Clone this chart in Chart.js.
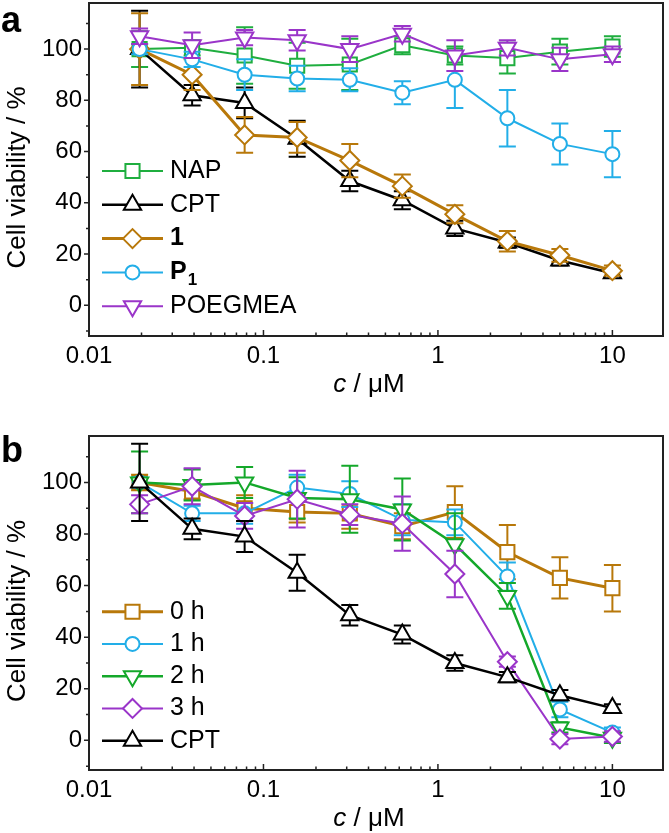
<!DOCTYPE html>
<html><head><meta charset="utf-8">
<script src="https://cdn.jsdelivr.net/npm/chart.js@4.4.1/dist/chart.umd.min.js"></script>
<style>
html,body{margin:0;padding:0;background:#fff;}
#wrap{position:relative;width:669px;height:833px;overflow:hidden;}
canvas{position:absolute;left:0;}
</style></head><body>
<div id="wrap">
<canvas id="ca" width="669" height="415" style="top:0;width:669px;height:415px"></canvas>
<canvas id="cb" width="669" height="418" style="top:415px;width:669px;height:418px"></canvas>
</div>
<script>
// ---------- data ----------
const concentrations = [0.0195, 0.039, 0.078, 0.156, 0.3125, 0.625, 1.25, 2.5, 5, 10];

// panel a
const napValues  = [100, 100.5, 97.5, 93.5, 94, 101.5, 97.5, 96.5, 99, 101];
const napErrors  = [7, 3, 11, 9, 10, 3.5, 3.5, 6, 5, 4];
const cptValues  = [100, 82, 79, 65, 48.5, 41, 30, 24.5, 17.5, 12.5];
const cptErrors  = [15, 4, 6, 7, 4, 3.5, 3, 2, 2, 1.5];
const oneValues  = [100, 90, 66.5, 65.5, 56.5, 46.5, 35.5, 25, 19.5, 13.5];
const oneErrors  = [14, 6, 7, 6, 6.5, 4.5, 3.5, 4, 2.5, 2];
const p1Values   = [100, 96, 90, 88.5, 88, 83, 88, 73, 63, 59];
const p1Errors   = [2, 3, 6, 5, 4.5, 4.5, 11, 11, 8, 9];
const poeValues  = [105, 101.5, 104.5, 103.5, 100, 106, 97.5, 100.5, 96, 98];
const poeErrors  = [3, 5, 3, 4, 5, 3, 6, 3, 4.5, 3];

// panel b
const h0Values = [100, 96.5, 90, 88.5, 88, 83, 88.5, 73, 63, 59];
const h0Errors = [3, 3, 5, 4, 6, 5, 10, 10.5, 8, 9];
const h1Values = [100, 88, 88, 98, 95.5, 85.5, 84.5, 63.5, 12, 3];
const h1Errors = [2, 3, 4, 5, 5, 6, 5, 5.5, 3, 2];
const h2Values = [100, 99, 100, 94, 93.5, 89.5, 76, 56, 5, 1];
const h2Errors = [12, 6, 6, 8, 13, 12, 12, 5, 2, 2];
const h3Values = [91.5, 98.5, 87, 93.5, 87.5, 84, 64.5, 30.5, 0.5, 1.5];
const h3Errors = [3.5, 7, 5, 11, 4, 10.5, 9, 2, 2, 2];
const cptBValues = [100, 82, 79, 65, 48.5, 41, 30, 24.5, 17.5, 12.5];
const cptBErrors = [15, 4, 6, 7, 4, 3.5, 3, 2, 2, 1.5];

// ticks
const xMajorTicks = [0.01, 0.1, 1, 10];
const xTickLabels = ['0.01', '0.1', '1', '10'];
const xMinorTicks = [0.02,0.03,0.04,0.05,0.06,0.07,0.08,0.09,0.2,0.3,0.4,0.5,0.6,0.7,0.8,0.9,2,3,4,5,6,7,8,9];
const yMajorTicks = [0, 20, 40, 60, 80, 100];
const yTickLabels = ['0', '20', '40', '60', '80', '100'];
const yMinorTicks = [-10, 10, 30, 50, 70, 90, 110];

// ---------- style ----------
const FONT = '"Liberation Sans", Arial, Helvetica, sans-serif';
const C_GREEN = '#1fae3f', C_GREEN2 = '#14a82a', C_BLACK = '#000000', C_BROWN = '#b8780a',
      C_CYAN = '#22aee8', C_PURPLE = '#9a35c9';

function ds(label, vals, errs, color, style, opts) {
  opts = opts || {};
  return {
    label: label,
    data: concentrations.map((x, i) => ({x: x, y: vals[i]})),
    err: errs,
    borderColor: color,
    backgroundColor: '#ffffff',
    borderWidth: opts.lw || 2,
    pointStyle: style.s,
    pointRadius: style.r,
    pointRotation: style.rot || 0,
    pointBorderWidth: 2,
    pointBorderColor: color,
    pointBackgroundColor: '#ffffff',
    legendBold: !!opts.bold,
    tension: 0
  };
}
const SQ = {s: 'rect', r: 10}, TRI = {s: 'triangle', r: 10}, DIA = {s: 'rectRot', r: 9.5},
      CIR = {s: 'circle', r: 7}, TRD = {s: 'triangle', r: 10, rot: 180};

const panelPlugin = {
  id: 'panel',
  beforeDatasetDraw(chart, args) {
    const d = chart.data.datasets[args.index];
    const ctx = chart.ctx, xs = chart.scales.x, ys = chart.scales.y, ca = chart.chartArea;
    ctx.save();
    ctx.beginPath(); ctx.rect(ca.left, ca.top, ca.right - ca.left, ca.bottom - ca.top); ctx.clip();
    ctx.strokeStyle = d.borderColor; ctx.lineWidth = 2;
    d.data.forEach((p, i) => {
      const e = d.err[i];
      const x = xs.getPixelForValue(p.x);
      const yt = ys.getPixelForValue(p.y + e), yb = ys.getPixelForValue(p.y - e);
      ctx.beginPath();
      ctx.moveTo(x, yt); ctx.lineTo(x, yb);
      ctx.moveTo(x - 8.5, yt); ctx.lineTo(x + 8.5, yt);
      ctx.moveTo(x - 8.5, yb); ctx.lineTo(x + 8.5, yb);
      ctx.stroke();
    });
    ctx.restore();
  },
  afterDraw(chart, args, o) {
    const ctx = chart.ctx, xs = chart.scales.x, ys = chart.scales.y, ca = chart.chartArea;
    ctx.save();
    // frame
    ctx.strokeStyle = '#222'; ctx.lineWidth = 2;
    ctx.strokeRect(ca.left, ca.top, ca.right - ca.left, ca.bottom - ca.top);
    // y ticks (outward)
    ctx.lineWidth = 1.5;
    ctx.beginPath();
    yMajorTicks.forEach(v => { const y = ys.getPixelForValue(v); ctx.moveTo(ca.left - 5, y); ctx.lineTo(ca.left, y); });
    yMinorTicks.forEach(v => { if (v < ys.min || v > ys.max) return; const y = ys.getPixelForValue(v); ctx.moveTo(ca.left - 3, y); ctx.lineTo(ca.left, y); });
    // x ticks (inward)
    xMajorTicks.forEach(v => { const x = xs.getPixelForValue(v); ctx.moveTo(x, ca.bottom); ctx.lineTo(x, ca.bottom - 6); });
    xMinorTicks.forEach(v => { const x = xs.getPixelForValue(v); ctx.moveTo(x, ca.bottom); ctx.lineTo(x, ca.bottom - 3.5); });
    ctx.stroke();

    // titles
    ctx.fillStyle = '#000';
    ctx.textBaseline = 'middle';
    const tf = 26;
    ctx.save();
    ctx.translate(18, (ca.top + ca.bottom) / 2 + 8);
    ctx.rotate(-Math.PI / 2);
    ctx.textAlign = 'center';
    ctx.font = tf + 'px ' + FONT;
    ctx.fillText(o.yTitle, 0, 0);
    ctx.restore();

    ctx.textAlign = 'left';
    ctx.font = 'italic ' + tf + 'px ' + FONT;
    const w1 = ctx.measureText(o.xTitleItalic).width;
    ctx.font = tf + 'px ' + FONT;
    const w2 = ctx.measureText(o.xTitleRest).width;
    const cx = (ca.left + ca.right) / 2 - 7;
    const ty = ca.bottom + 49;
    let x0 = cx - (w1 + w2) / 2;
    ctx.font = 'italic ' + tf + 'px ' + FONT;
    ctx.fillText(o.xTitleItalic, x0, ty);
    ctx.font = tf + 'px ' + FONT;
    ctx.fillText(o.xTitleRest, x0 + w1, ty);

    // panel letter
    ctx.font = 'bold 36px ' + FONT;
    ctx.textBaseline = 'alphabetic';
    ctx.fillText(o.letter, 1, o.letterY);

    // legend
    chart.data.datasets.forEach((d, i) => {
      const y = o.legendY + i * o.legendStep;
      ctx.strokeStyle = d.borderColor; ctx.lineWidth = d.borderWidth;
      ctx.beginPath(); ctx.moveTo(102, y); ctx.lineTo(163, y); ctx.stroke();
      ctx.fillStyle = '#fff'; ctx.strokeStyle = d.borderColor; ctx.lineWidth = 2;
      Chart.helpers.drawPoint(ctx, {pointStyle: d.pointStyle, radius: d.pointRadius, rotation: d.pointRotation, borderWidth: 2}, 132.5, y);
      ctx.fillStyle = '#000';
      ctx.textBaseline = 'middle';
      const parts = d.label.split('_');
      const wt = d.legendBold ? 'bold ' : '';
      ctx.font = wt + '25px ' + FONT;
      ctx.fillText(parts[0], 170, y);
      if (parts[1]) {
        const bw = ctx.measureText(parts[0]).width;
        ctx.font = wt + '17px ' + FONT;
        ctx.fillText(parts[1], 170 + bw + 1, y + 8);
      }
    });
    ctx.restore();
  }
};

function makeChart(id, datasets, cfg) {
  datasets.forEach((d, i) => { d.order = datasets.length - i; });
  return new Chart(document.getElementById(id), {
    type: 'line',
    data: {datasets: datasets},
    plugins: [panelPlugin],
    options: {
      responsive: false, animation: false, devicePixelRatio: 1,
      layout: {autoPadding: false, padding: {top: cfg.top, right: 6, left: 0, bottom: 0}},
      plugins: {legend: {display: false}, tooltip: {enabled: false}, panel: cfg.panel},
      scales: {
        x: {
          type: 'logarithmic', min: 0.01, max: 19.5,
          afterBuildTicks: s => { s.ticks = xMajorTicks.map(v => ({value: v, major: true})); },
          afterFit: s => { s.height = cfg.xh; s.paddingLeft = 0; s.paddingRight = 0; },
          grid: {display: false, drawTicks: false}, border: {display: false},
          ticks: {font: {family: FONT, size: 24}, color: '#000', padding: 6, maxRotation: 0, autoSkip: false,
                  callback: (v, i) => xTickLabels[i]}
        },
        y: {
          type: 'linear', min: cfg.ymin, max: cfg.ymax,
          afterBuildTicks: s => { s.ticks = yMajorTicks.map(v => ({value: v})); },
          afterFit: s => { s.width = 89; s.paddingTop = 0; s.paddingBottom = 0; },
          grid: {display: false, drawTicks: false}, border: {display: false},
          ticks: {font: {family: FONT, size: 24}, color: '#000', padding: 7,
                  callback: (v, i) => yTickLabels[i]}
        }
      }
    }
  });
}

makeChart('ca', [
  ds('NAP', napValues, napErrors, C_GREEN, SQ, {lw: 2}),
  ds('CPT', cptValues, cptErrors, C_BLACK, TRI, {lw: 2.5}),
  ds('1', oneValues, oneErrors, C_BROWN, DIA, {lw: 3, bold: true}),
  ds('P_1', p1Values, p1Errors, C_CYAN, CIR, {lw: 2, bold: true}),
  ds('POEGMEA', poeValues, poeErrors, C_PURPLE, TRD, {lw: 2})
], {top: 3, xh: 79, ymin: -12, ymax: 118,
    panel: {letter: 'a', letterY: 32, legendY: 171, legendStep: 33.8,
            yTitle: 'Cell viability / %', xTitleItalic: 'c', xTitleRest: ' / μM'}});

makeChart('cb', [
  ds('0 h', h0Values, h0Errors, C_BROWN, SQ, {lw: 3}),
  ds('1 h', h1Values, h1Errors, C_CYAN, CIR, {lw: 2}),
  ds('2 h', h2Values, h2Errors, C_GREEN2, TRD, {lw: 2.5}),
  ds('3 h', h3Values, h3Errors, C_PURPLE, DIA, {lw: 2}),
  ds('CPT', cptBValues, cptBErrors, C_BLACK, TRI, {lw: 2.5})
], {top: 21, xh: 63, ymin: -11.5, ymax: 118,
    panel: {letter: 'b', letterY: 47, legendY: 196.7, legendStep: 32.25,
            yTitle: 'Cell viability / %', xTitleItalic: 'c', xTitleRest: ' / μM'}});
</script>
</body></html>
